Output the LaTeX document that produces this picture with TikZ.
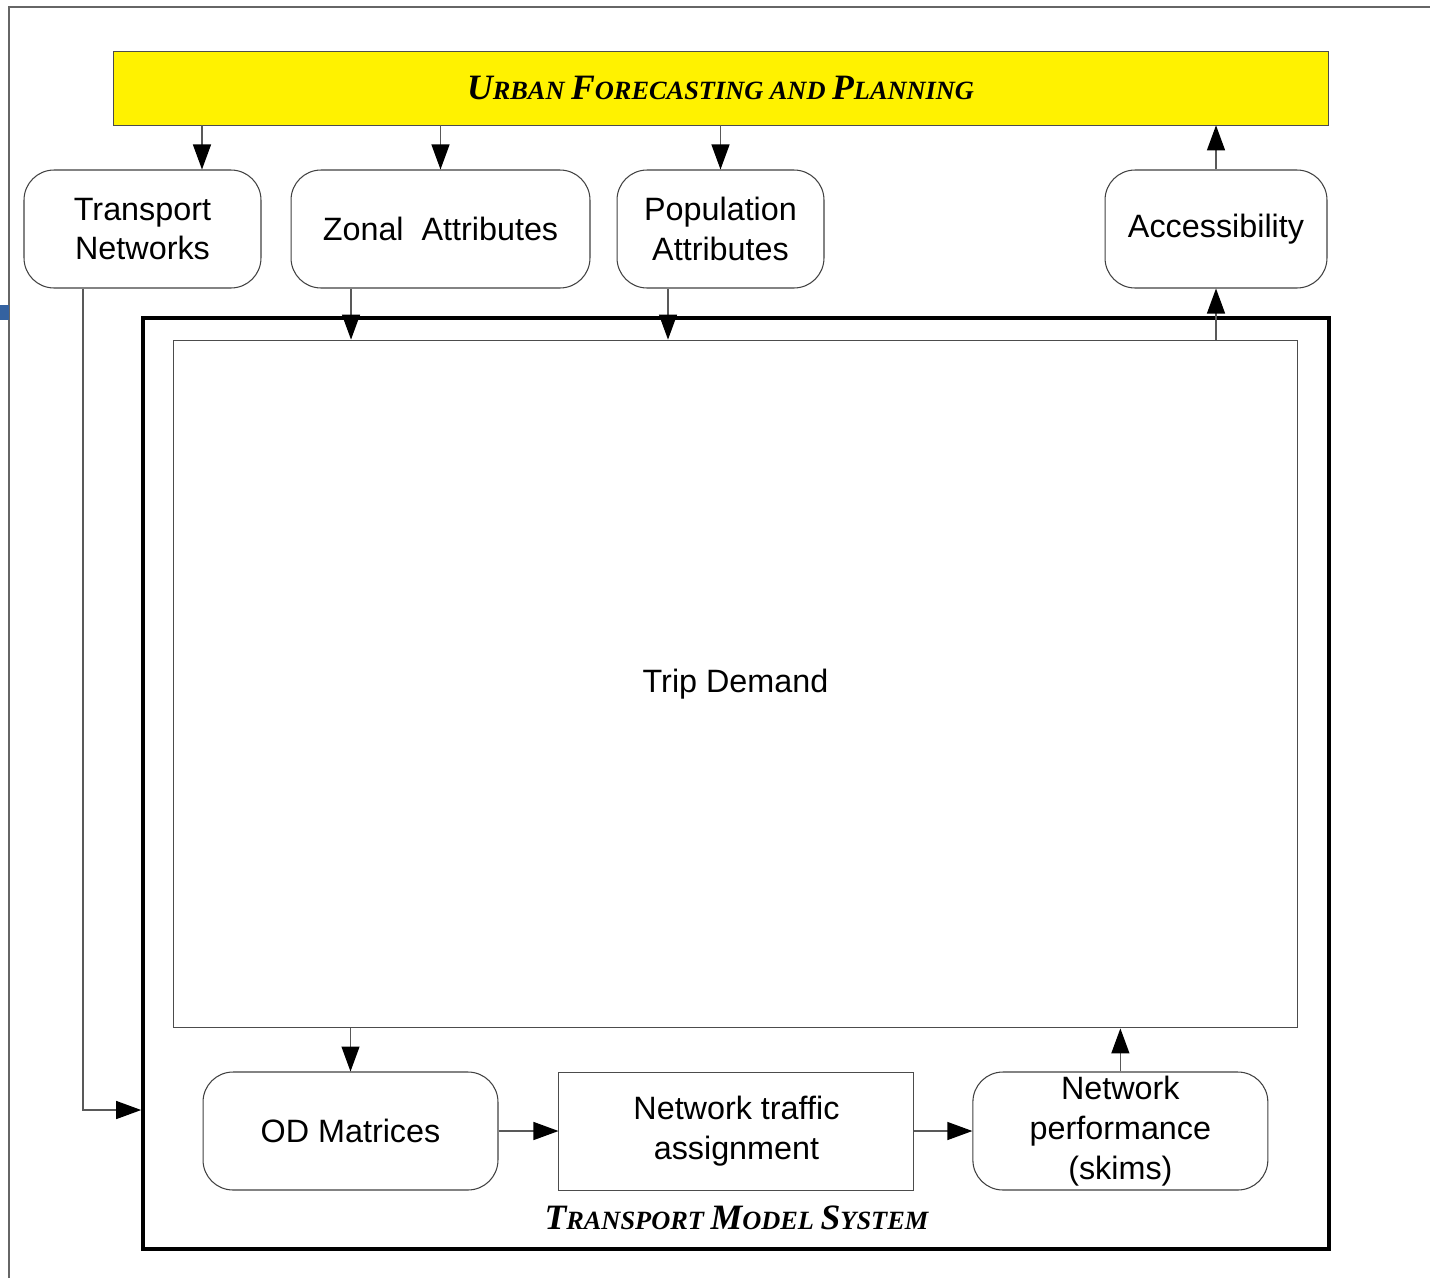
\documentclass[tikz,border=0pt]{standalone}
\usepackage{fontspec}
\setmainfont{Liberation Sans}
\newfontfamily\titlefont{Liberation Serif}
\usepackage{tikz}
\usetikzlibrary{arrows.meta, positioning, calc}
\definecolor{markblue}{RGB}{52,98,160}
\newcommand{\boxfont}{\fontsize{18.4}{22.7}\selectfont}
\newcommand{\scword}[2]{{\fontsize{20.3}{20.3}\selectfont #1}{\fontsize{15}{15}\selectfont #2}}

\begin{document}
\begin{tikzpicture}[
    x=0.02cm, y=-0.02cm,
    >={Triangle[length=5mm, width=3.6mm, color=black]},
    roundnode/.style={draw=black!75, line width=0.6pt, rounded corners=6mm, minimum height=2.36cm, inner sep=0pt, font=\boxfont, align=center},
    boxnode/.style={draw=black!70, line width=0.55pt, inner sep=0pt, font=\boxfont, align=center},
    flow/.style={->, draw=black!65, line width=0.7pt},
    titlelabel/.style={inner sep=0pt, font=\titlefont\bfseries\itshape\fontsize{15}{15}\selectfont}
]
    \useasboundingbox (0,0) rectangle (1430,1278);
    \draw[black!60, line width=0.6pt] (9,1278) -- (9,7) -- (1430,7);
    \fill[markblue] (0,305) rectangle (9,320);

    \node[titlelabel, draw=black!70, fill=yellow, minimum width=24.3cm, minimum height=1.48cm] (Plan) at (720.5,88) {\scword{U}{RBAN} \scword{F}{ORECASTING AND} \scword{P}{LANNING}};

    \node[roundnode, minimum width=4.74cm] (TN)  at (142.5,229) {Transport\\Networks};
    \node[roundnode, minimum width=5.98cm] (ZA)  at (440.5,229) {Zonal\ \ Attributes};
    \node[roundnode, minimum width=4.14cm] (PA)  at (720.5,229) {Population\\Attributes};
    \node[roundnode, minimum width=4.44cm] (Acc) at (1216,229)  {Accessibility};

    \node[draw, line width=2.2pt, minimum width=23.72cm, minimum height=18.62cm] (TMS) at (736,783.5) {};
    \node[boxnode, minimum width=22.5cm, minimum height=13.76cm] (Trip) at (735.5,684) {Trip Demand};

    \node[roundnode, minimum width=5.9cm] (OD)  at (350.5,1131) {OD Matrices};
    \node[boxnode, minimum width=7.1cm, minimum height=2.36cm] (NTA) [right=1.2cm of OD] {Network traffic\\assignment};
    \node[roundnode, minimum width=5.9cm] (NP)  [right=1.16cm of NTA] {Network\\performance\\(skims)};
    \node[titlelabel] (TMSLabel) [below=0.3cm of NTA] {\scword{T}{RANSPORT} \scword{M}{ODEL} \scword{S}{YSTEM}};

    \draw[flow] ([xshift=1.19cm]TN.north |- Plan.south) -- ([xshift=1.19cm]TN.north);
    \draw[flow] (ZA.north |- Plan.south) -- (ZA.north);
    \draw[flow] (PA.north |- Plan.south) -- (PA.north);
    \draw[flow] (Acc.north) -- (Acc.north |- Plan.south);
    \draw[flow] ([xshift=-1.79cm]ZA.south) -- ([xshift=-1.79cm]ZA.south |- Trip.north);
    \draw[flow] ([xshift=-1.05cm]PA.south) -- ([xshift=-1.05cm]PA.south |- Trip.north);
    \draw[flow] (Acc.south |- Trip.north) -- (Acc.south);
    \draw[flow] ([xshift=-1.19cm]TN.south) |- ([yshift=0.42cm]TMS.west |- OD);
    \draw[flow] (Trip.south -| OD) -- (OD.north);
    \draw[flow] (OD) -- (NTA);
    \draw[flow] (NTA) -- (NP);
    \draw[flow] (NP.north) -- (NP.north |- Trip.south);

\end{tikzpicture}
\end{document}
